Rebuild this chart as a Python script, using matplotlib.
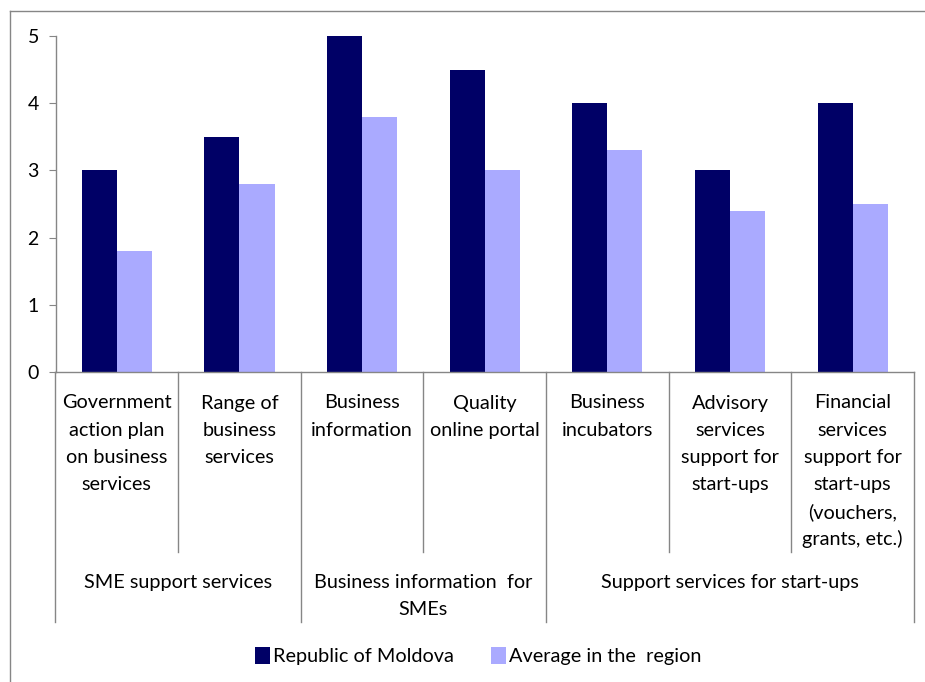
import matplotlib
matplotlib.use("Agg")
import matplotlib.pyplot as plt
import matplotlib.transforms as mtransforms
from matplotlib.lines import Line2D
from matplotlib.patches import Patch
import numpy as np

plt.rcParams['font.family'] = ['Lato', 'DejaVu Sans']

categories = [
    ["Government", "action plan", "on business", "services"],
    ["Range of", "business", "services"],
    ["Business", "information"],
    ["Quality", "online portal"],
    ["Business", "incubators"],
    ["Advisory", "services", "support for", "start-ups"],
    ["Financial", "services", "support for", "start-ups", "(vouchers,", "grants, etc.)"],
]
groups = [
    (["SME support services"], 0, 1),
    (["Business information  for", "SMEs"], 2, 3),
    (["Support services for start-ups"], 4, 6),
]
moldova = [3.0, 3.5, 5.0, 4.5, 4.0, 3.0, 4.0]
region = [1.8, 2.8, 3.8, 3.0, 3.3, 2.4, 2.5]
series_names = ["Republic of Moldova", "Average in the  region"]
yticks = [0, 1, 2, 3, 4, 5]

c_dark = "#000066"
c_light = "#AAAAFF"
gray = "#868686"

W, H = 925, 682
fig = plt.figure(figsize=(W / 100, H / 100), dpi=100)
ax_left, ax_right, ax_bot, ax_top = 55.5, 914, 372, 36
ax = fig.add_axes([ax_left / W, 1 - ax_bot / H, (ax_right - ax_left) / W, (ax_bot - ax_top) / H])

x = np.arange(len(moldova))
bw = 1 / 3.5
ax.bar(x - bw / 2, moldova, width=bw, color=c_dark, zorder=2)
ax.bar(x + bw / 2, region, width=bw, color=c_light, zorder=2)

ax.set_xlim(-0.5, len(moldova) - 0.5)
ax.set_ylim(0, 5)
ax.set_yticks(yticks)
ax.set_yticklabels([str(t) for t in yticks], fontsize=14)
ax.set_xticks([])
for s in ["top", "right"]:
    ax.spines[s].set_visible(False)
for s in ["left", "bottom"]:
    ax.spines[s].set_color(gray)
    ax.spines[s].set_linewidth(1)
ax.tick_params(axis='y', length=5, color=gray, pad=7)

trans = mtransforms.blended_transform_factory(ax.transData, ax.transAxes)
axh = ax_bot - ax_top

def ypx(p):
    return -(p - ax_bot) / axh

# separators
group_bounds = set()
for _, a, b in groups:
    group_bounds.add(a - 0.5)
    group_bounds.add(b + 0.5)
for b in np.arange(-0.5, len(moldova), 1.0):
    yend = ypx(622) if b in group_bounds else ypx(552)
    ax.add_line(Line2D([b, b], [0, yend], transform=trans, color=gray, lw=1, clip_on=False))

# category labels
line_y0, line_dy = 403, 27.2
for i, lines in enumerate(categories):
    for j, ln in enumerate(lines):
        ax.text(i, ypx(line_y0 + j * line_dy), ln, transform=trans, ha='center', va='center',
                fontsize=14.3)

# group labels
for lines, a, b in groups:
    for j, ln in enumerate(lines):
        ax.text((a + b) / 2, ypx(582.5 + j * 26.8), ln, transform=trans, ha='center', va='center',
                fontsize=14.3)

# outer frame
fig.add_artist(Line2D([10 / W, 1], [1 - 11 / H, 1 - 11 / H], transform=fig.transFigure, color=gray, lw=1))
fig.add_artist(Line2D([10 / W, 10 / W], [0, 1 - 11 / H], transform=fig.transFigure, color=gray, lw=1))

handles = [Patch(facecolor=c_dark), Patch(facecolor=c_light)]
fig.legend(handles, series_names, loc='center', bbox_to_anchor=(478 / W, 1 - 656 / H), ncol=2,
           frameon=False, fontsize=14.3, handlelength=0.75, handleheight=1.0, handletextpad=0.15,
           columnspacing=1.9)

fig.savefig("out.png", dpi=100, facecolor='white')
